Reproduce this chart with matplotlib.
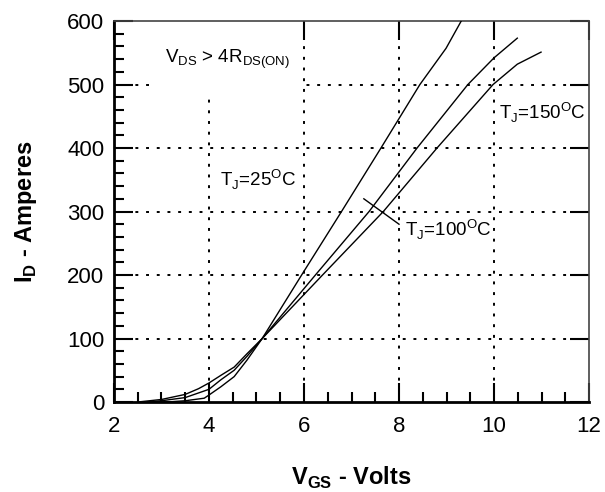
import matplotlib.pyplot as plt
from matplotlib.patches import Rectangle
from matplotlib.ticker import MultipleLocator

plt.rcParams['font.family'] = ['Liberation Sans', 'DejaVu Sans']
plt.rcParams['mathtext.fontset'] = 'custom'
plt.rcParams['mathtext.rm'] = 'Liberation Sans'
plt.rcParams['mathtext.bf'] = 'Liberation Sans:bold'

# transfer characteristics (V_GS in volts, I_D in amperes)
vgs_25 = [2.9, 3.2, 3.5, 3.9, 4.0, 4.25, 4.53, 4.8, 5.12, 5.95, 6.79, 7.62, 8.44, 8.99, 9.31]
id_25 = [0, 0.5, 2, 6, 11, 24, 40, 66, 100, 200, 300, 400, 500, 557, 600]

vgs_100 = [2.7, 3.0, 3.5, 4.0, 4.25, 4.53, 4.8, 5.12, 6.24, 7.37, 8.38, 9.45, 10.0, 10.49]
id_100 = [0, 2, 7, 20, 35, 50, 72, 100, 200, 300, 400, 500, 542, 573]

vgs_150 = [2.5, 3.0, 3.5, 3.78, 4.0, 4.25, 4.53, 4.8, 5.12, 6.39, 7.67, 8.80, 9.98, 10.49, 10.99]
id_150 = [0, 4, 12, 21, 30, 42, 55, 76, 100, 200, 300, 400, 500, 532, 551]

x_ticks = [2, 4, 6, 8, 10, 12]
y_ticks = [0, 100, 200, 300, 400, 500, 600]

fig = plt.figure(figsize=(6.05, 4.92), dpi=100)
ax = fig.add_axes([0.1884, 0.1829, 0.7852, 0.7744])

ax.set_xlim(2, 12)
ax.set_ylim(0, 600)

# dotted grid
for x in x_ticks[1:-1]:
    ax.axvline(x, color='black', lw=1.4, ls=(0, (1.5, 4)), zorder=1)
for y in y_ticks[1:-1]:
    ax.axhline(y, color='black', lw=1.4, ls=(0, (1.5, 4)), zorder=1)

# blank area behind the condition text
ax.add_patch(Rectangle((2.8, 478), 3.15, 130, facecolor='white', edgecolor='none', zorder=2))

ax.plot(vgs_25, id_25, color='black', lw=1, zorder=3)
ax.plot(vgs_100, id_100, color='black', lw=1, zorder=3)
ax.plot(vgs_150, id_150, color='black', lw=1, zorder=3)

ax.text(3.07, 539, r'V$_\mathregular{DS}$ > 4R$_\mathregular{DS(ON)}$', fontsize=13.5, va='center', zorder=4)
ax.text(4.24, 350, r'T$_\mathregular{J}$=25$^\mathregular{O}$C', fontsize=13.5, va='center', zorder=4)
ax.text(10.11, 455, r'T$_\mathregular{J}$=150$^\mathregular{O}$C', fontsize=13.5, va='center', zorder=4)
ax.text(8.12, 271, r'T$_\mathregular{J}$=100$^\mathregular{O}$C', fontsize=13.5, va='center', zorder=4)
ax.plot([7.26, 8.0], [320, 280], color='black', lw=1, zorder=3)

ax.set_xticks(x_ticks)
ax.set_yticks(y_ticks)
ax.xaxis.set_minor_locator(MultipleLocator(0.5))
ax.yaxis.set_minor_locator(MultipleLocator(20))
ax.tick_params(which='major', direction='in', length=14, width=1.5, labelsize=16,
               top=True, right=True, colors='black', pad=7)
ax.tick_params(which='minor', direction='in', length=7, width=1.5, top=False, right=False)
ax.tick_params(axis='x', which='major', pad=10)

for side in ['left', 'bottom']:
    ax.spines[side].set_linewidth(2)
for side in ['top', 'right']:
    ax.spines[side].set_linewidth(1.2)
    ax.spines[side].set_color('#444444')

ax.set_xlabel(r'V$_\mathbf{GS}$ - Volts', fontsize=17, fontweight='bold', labelpad=20)
ax.set_ylabel(r'I$_\mathbf{D}$ - Amperes', fontsize=17, fontweight='bold', labelpad=20)

fig.savefig('out.png', dpi=100)
